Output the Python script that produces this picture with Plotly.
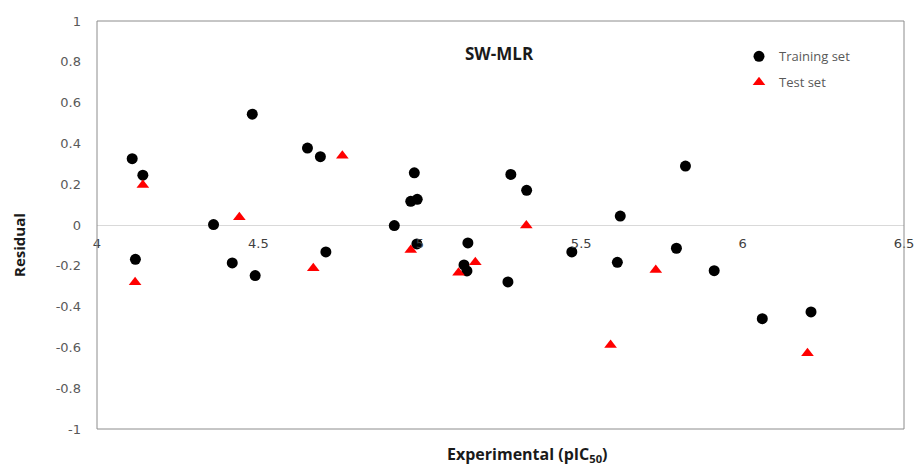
import plotly.graph_objects as go

# Training set (Experimental pIC50, Residual)
train_x = [4.109, 4.142, 4.361, 4.481, 4.119, 4.419, 4.490, 4.652, 4.692, 4.709,
           4.921, 4.972, 4.983, 4.992, 4.991, 5.149, 5.137, 5.146, 5.282, 5.331,
           5.273, 5.471, 5.621, 5.612, 5.795, 5.823, 5.912, 6.061, 6.212]
train_y = [0.325, 0.244, 0.002, 0.543, -0.168, -0.186, -0.248, 0.377, 0.335, -0.132,
           -0.003, 0.116, 0.256, 0.126, -0.093, -0.088, -0.196, -0.225, 0.248, 0.170,
           -0.279, -0.132, 0.044, -0.183, -0.114, 0.289, -0.224, -0.459, -0.426]

# Test set
test_x = [4.142, 4.441, 4.118, 4.670, 4.760, 4.972, 5.120, 5.172, 5.330, 5.591, 5.731, 6.201]
test_y = [0.196, 0.038, -0.281, -0.212, 0.340, -0.122, -0.234, -0.183, -0.003, -0.588, -0.221, -0.629]

x_ticks = [4, 4.5, 5, 5.5, 6, 6.5]
y_ticks = [1, 0.8, 0.6, 0.4, 0.2, 0, -0.2, -0.4, -0.6, -0.8, -1]

fig = go.Figure()
fig.add_trace(go.Scatter(
    x=train_x, y=train_y, mode="markers", name="Training set", legendgroup="train",
    marker=dict(symbol="circle", size=11, color="black"),
))
fig.add_trace(go.Scatter(
    x=test_x, y=test_y, mode="markers", name="Test set", legendgroup="test",
    marker=dict(symbol="triangle-up", size=11, color="#FF0000"),
))

W, H = 917, 466
L, R, T, B = 97, 13, 21, 37
PW, PH = W - L - R, H - T - B

fig.update_layout(
    template="none",
    width=W, height=H, autosize=False,
    margin=dict(l=L, r=R, t=T, b=B, pad=0, autoexpand=False),
    paper_bgcolor="white", plot_bgcolor="white",
    showlegend=True,
    legend=dict(
        x=(739 - L) / PW, y=(429 - 41.4) / PH, xanchor="left", yanchor="top",
        bgcolor="rgba(0,0,0,0)", borderwidth=0,
        font=dict(family="Open Sans", size=13, color="#595959"),
        itemwidth=30, tracegroupgap=6,
    ),
    xaxis=dict(
        range=[4, 6.5], tickvals=x_ticks, ticktext=[("%g" % v) for v in x_ticks],
        anchor="free", position=0.5, automargin=False,
        showgrid=False, zeroline=False, showline=False, ticks="",
        tickfont=dict(family="DejaVu Sans", size=13, color="#404040"),
        ticklabelstandoff=9,
    ),
    yaxis=dict(
        range=[-1, 1], tickvals=y_ticks, ticktext=[("%g" % v) for v in y_ticks],
        automargin=False,
        showgrid=False, zeroline=True, zerolinecolor="#d9d9d9", zerolinewidth=1,
        showline=False, ticks="",
        tickfont=dict(family="DejaVu Sans", size=13, color="#595959"),
        ticklabelstandoff=15,
    ),
    shapes=[dict(type="rect", xref="paper", yref="paper", x0=0, x1=1, y0=0, y1=1,
                 line=dict(color="#8c8c8c", width=1), layer="above")],
    annotations=[
        dict(text="<b>SW-MLR</b>", xref="paper", yref="paper",
             x=(499 - L) / PW, y=(429 - 53) / PH,
             xanchor="center", yanchor="middle", showarrow=False,
             font=dict(family="Open Sans", size=17, color="#1a1a1a")),
        dict(text="<b>Experimental (pIC<sub>50</sub>)</b>", xref="paper", yref="paper",
             x=(527 - L) / PW, y=(429 - 454) / PH,
             xanchor="center", yanchor="middle", showarrow=False,
             font=dict(family="Open Sans", size=16, color="#1a1a1a")),
        dict(text="<b>Residual</b>", xref="paper", yref="paper",
             x=(19 - L) / PW, y=(429 - 245) / PH,
             xanchor="center", yanchor="middle", showarrow=False, textangle=-90,
             font=dict(family="Open Sans", size=15, color="#1a1a1a")),
    ],
)

fig.write_html("out.html")
